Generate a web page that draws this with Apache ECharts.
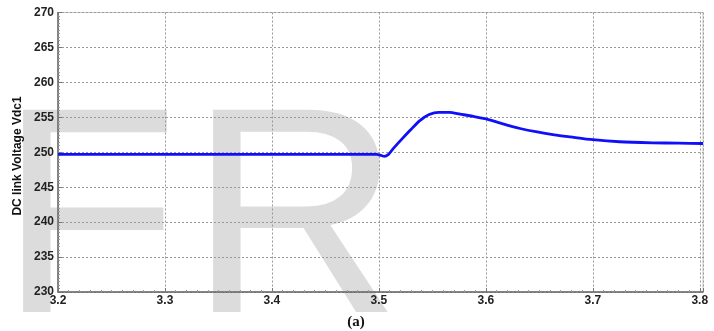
<!DOCTYPE html>
<html>
<head>
<meta charset="utf-8">
<script src="https://cdn.jsdelivr.net/npm/echarts@6/dist/echarts.min.js"></script>
<style>
  html, body { margin: 0; padding: 0; background: #fff; }
  #chart { width: 714px; height: 331px; }
</style>
</head>
<body>
<div id="chart"></div>
<script>
// 时间 (s) 与直流母线电压 Vdc1 (V)
const timeValues = [3.2, 3.3, 3.4, 3.498, 3.502, 3.505, 3.509, 3.513, 3.521, 3.529, 3.538,
  3.547, 3.556, 3.566, 3.576, 3.588, 3.601, 3.616, 3.632, 3.648, 3.664, 3.679, 3.7,
  3.725, 3.756, 3.78, 3.803];
const vdcValues = [249.7, 249.7, 249.7, 249.7, 249.55, 249.42, 249.7, 250.45, 251.8, 253.1, 254.5,
  255.4, 255.72, 255.7, 255.45, 255.15, 254.75, 254.05, 253.4, 252.9, 252.5, 252.2, 251.8,
  251.5, 251.35, 251.3, 251.25];
const yTicks = [230, 235, 240, 245, 250, 255, 260, 265, 270];
const xTicks = [3.2, 3.3, 3.4, 3.5, 3.6, 3.7, 3.8];

const chart = echarts.init(document.getElementById('chart'));

const labelFont = {
  color: '#222',
  fontFamily: 'Liberation Sans, Arial, sans-serif',
  fontWeight: 'bold',
  fontSize: 12
};

const option = {
  backgroundColor: '#fff',
  animation: false,
  grid: {
    left: 58, right: 11, top: 12.5, bottom: 39,
    show: true,
    borderColor: '#c8c8c8',
    borderWidth: 1
  },
  graphic: [
    // 背景水印
    {
      type: 'text', left: -1, top: 84, z: -10, silent: true,
      style: { text: 'F', fill: '#dcdcdc', font: '294px "Liberation Sans", Arial, sans-serif' }
    },
    {
      type: 'text', left: 189, top: 84, z: -10, silent: true,
      style: { text: 'R', fill: '#dcdcdc', font: '294px "Liberation Sans", Arial, sans-serif' }
    },
    // 纵轴标题
    {
      type: 'text', x: 18, y: 156, rotation: Math.PI / 2, z: 10,
      style: {
        text: 'DC link Voltage Vdc1', fill: '#111',
        font: 'bold 12px "Liberation Sans Narrow", "Liberation Sans", Arial, sans-serif',
        align: 'center', verticalAlign: 'middle'
      }
    },
    // 图注
    {
      type: 'text', x: 356, y: 322, z: 10,
      style: {
        text: '(a)', fill: '#111',
        font: 'bold 15px "Liberation Serif", "Times New Roman", serif',
        align: 'center', verticalAlign: 'middle'
      }
    }
  ],
  xAxis: {
    type: 'value',
    min: 3.2,
    max: 3.803,
    interval: 0.1,
    axisLine: { show: true, onZero: false, lineStyle: { color: '#666', width: 1.5 } },
    axisTick: { show: true, inside: true, length: 4, lineStyle: { color: '#777' } },
    minorTick: { show: true, splitNumber: 10, length: 2, lineStyle: { color: '#999' } },
    splitLine: { show: true, lineStyle: { color: '#999', type: [2, 2], width: 1 } },
    axisLabel: Object.assign({
      margin: 3,
      formatter: function (v) {
        const hit = xTicks.find(t => Math.abs(t - v) < 1e-6);
        return hit === undefined ? '' : hit.toFixed(1);
      }
    }, labelFont)
  },
  yAxis: {
    type: 'value',
    min: yTicks[0],
    max: yTicks[yTicks.length - 1],
    interval: 5,
    axisLine: { show: true, lineStyle: { color: '#666', width: 1.5 } },
    axisTick: { show: true, inside: true, length: 4, lineStyle: { color: '#777' } },
    minorTick: { show: true, splitNumber: 10, length: 2, lineStyle: { color: '#999' } },
    splitLine: { show: true, lineStyle: { color: '#999', type: [2, 2], width: 1 } },
    axisLabel: Object.assign({ margin: 4 }, labelFont)
  },
  series: [
    {
      type: 'line',
      data: timeValues.map((t, i) => [t, vdcValues[i]]),
      showSymbol: false,
      smooth: 0.25,
      lineStyle: { color: '#1010f8', width: 2.8 },
      z: 5
    }
  ]
};

chart.setOption(option);
</script>
</body>
</html>
